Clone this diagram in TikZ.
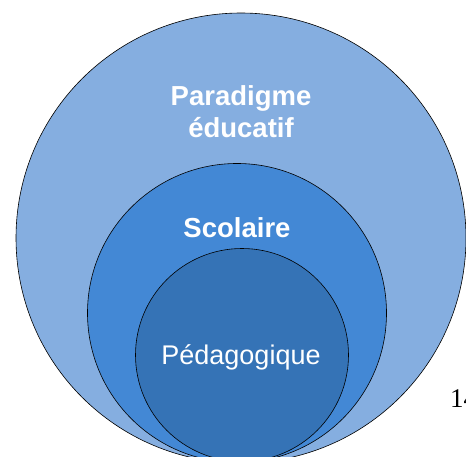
\documentclass[tikz,border=0pt]{standalone}
\usepackage{fontspec}
\setmainfont{Liberation Sans}
\newfontfamily\serifnum{Liberation Serif}
\definecolor{outerblue}{HTML}{85AEE0}
\definecolor{midblue}{HTML}{4388D5}
\definecolor{innerblue}{HTML}{3573B6}
\begin{document}
\begin{tikzpicture}[x=1pt,y=-1pt,
  ring/.style={circle, draw=black, line width=0.6pt, inner sep=0pt},
  boldlabel/.style={text=white, font=\fontsize{27.5}{32}\selectfont\bfseries, align=center, inner sep=0pt, anchor=base},
  plainlabel/.style={text=white, font=\fontsize{27}{30}\selectfont, inner sep=0pt, anchor=base}]
\useasboundingbox (0,0) rectangle (466,457);
\clip (0,0) rectangle (466,457);
\node[ring, fill=outerblue, minimum size=450pt] (outer) at (241,238) {};
\node[ring, fill=midblue, minimum size=299pt] (middle) at (237,313) {};
\node[ring, fill=innerblue, minimum size=213pt] (inner) at (242,355) {};
\node[boldlabel] (lparadigme) at (241,106) {Paradigme};
\node[boldlabel] (leducatif) at (241,138) {éducatif};
\node[boldlabel] (lscolaire) at (237,238) {Scolaire};
\node[plainlabel] (lpeda) at (241,364) {Pédagogique};
\node[anchor=base west, inner sep=0pt, font=\serifnum\fontsize{27}{30}\selectfont] (pagenum) at (450,407) {14};
\end{tikzpicture}
\end{document}
